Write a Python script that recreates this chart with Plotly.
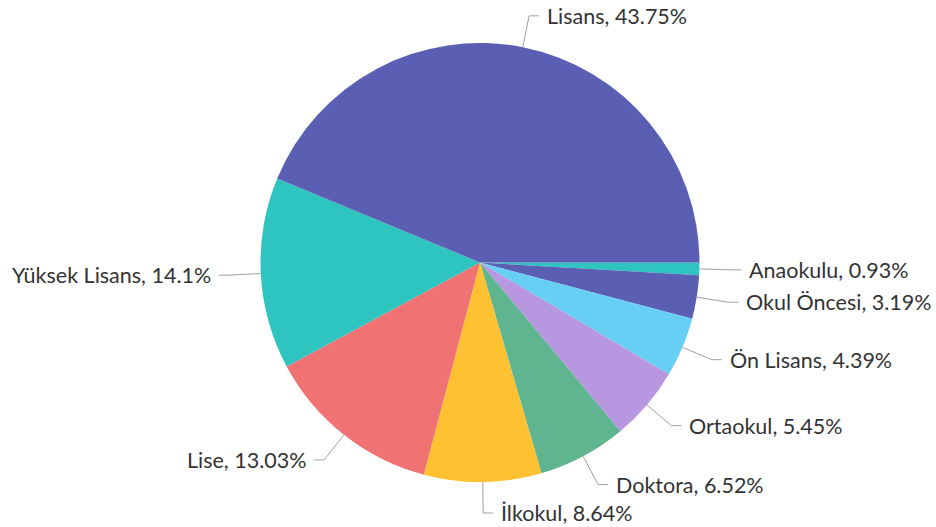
import math
import plotly.graph_objects as go

# ---- data ----
categories = ["Anaokulu", "Okul Öncesi", "Ön Lisans", "Ortaokul", "Doktora",
              "İlkokul", "Lise", "Yüksek Lisans", "Lisans"]
shares = [0.93, 3.19, 4.39, 5.45, 6.52, 8.64, 13.03, 14.1, 43.75]

# ---- style ----
colors = ["#2ec4bf", "#5b5fb4", "#67cff4", "#b897e1", "#5fb58f",
          "#fdc131", "#f17272", "#2ec4bf", "#5b5fb4"]
W, H = 936, 527
CX, CY, R = 480.0, 262.5, 219.5
LEN1, LEN2, GAP = 32.0, 10.0, 6.0
FONT = "Lato"
LINE_COLOR = "#a0a0a0"
TEXT_COLOR = "#333333"

fig = go.Figure(go.Pie(
    labels=categories,
    values=shares,
    sort=False,
    direction="clockwise",
    rotation=90,
    marker=dict(colors=colors, line=dict(width=0)),
    textinfo="none",
    hoverinfo="label+percent",
    showlegend=False,
    domain=dict(x=[(CX - R) / W, (CX + R) / W],
                y=[(H - CY - R) / H, (H - CY + R) / H]),
))

# ---- label layout derived from the values ----
total = sum(shares)
labels = []
cum = 0.0
for name, v in zip(categories, shares):
    mid = (cum + v / 2) / total * 2 * math.pi  # clockwise from 3 o'clock
    cum += v
    c, s = math.cos(mid), math.sin(mid)
    p1 = (CX + R * c, CY + R * s)
    p2 = (CX + (R + LEN1) * c, CY + (R + LEN1) * s)
    labels.append(dict(name=name, v=v, c=c, s=s, p1=p1, p2=list(p2),
                       side=1 if c >= 0 else -1))

MIN_SPACING = 25.0
TOP, BOTTOM = 14.0, H - 14.0
for side in (1, -1):
    grp = sorted([l for l in labels if l["side"] == side], key=lambda l: l["p2"][1])
    for i in range(1, len(grp)):
        if grp[i]["p2"][1] - grp[i - 1]["p2"][1] < MIN_SPACING:
            grp[i]["p2"][1] = grp[i - 1]["p2"][1] + MIN_SPACING
    if grp and grp[-1]["p2"][1] > BOTTOM:
        grp[-1]["p2"][1] = BOTTOM
        for i in range(len(grp) - 2, -1, -1):
            if grp[i + 1]["p2"][1] - grp[i]["p2"][1] < MIN_SPACING:
                grp[i]["p2"][1] = grp[i + 1]["p2"][1] - MIN_SPACING
    if grp and grp[0]["p2"][1] < TOP:
        grp[0]["p2"][1] = TOP


def px(x):
    return x / W


def py(y):
    return 1 - y / H


shapes = []
annotations = []
for l in labels:
    x1, y1 = l["p1"]
    x2, y2 = l["p2"]
    x3 = x2 + l["side"] * LEN2
    path = f"M {px(x1)} {py(y1)} L {px(x2)} {py(y2)} L {px(x3)} {py(y2)}"
    shapes.append(dict(type="path", xref="paper", yref="paper", path=path,
                       line=dict(color=LINE_COLOR, width=1)))
    annotations.append(dict(
        x=px(x3 + l["side"] * GAP), y=py(y2), xref="paper", yref="paper",
        text=f"{l['name']}, {l['v']:g}%", showarrow=False,
        xanchor="left" if l["side"] == 1 else "right", yanchor="middle",
        font=dict(family=FONT, size=21.5, color=TEXT_COLOR)))

fig.update_layout(
    width=W, height=H,
    margin=dict(l=0, r=0, t=0, b=0),
    paper_bgcolor="white",
    plot_bgcolor="white",
    shapes=shapes,
    annotations=annotations,
)

fig.write_html("out.html",
               config={"displayModeBar": False},
               post_script="document.body.style.margin='0px';"
                           "document.body.style.overflow='hidden';")
